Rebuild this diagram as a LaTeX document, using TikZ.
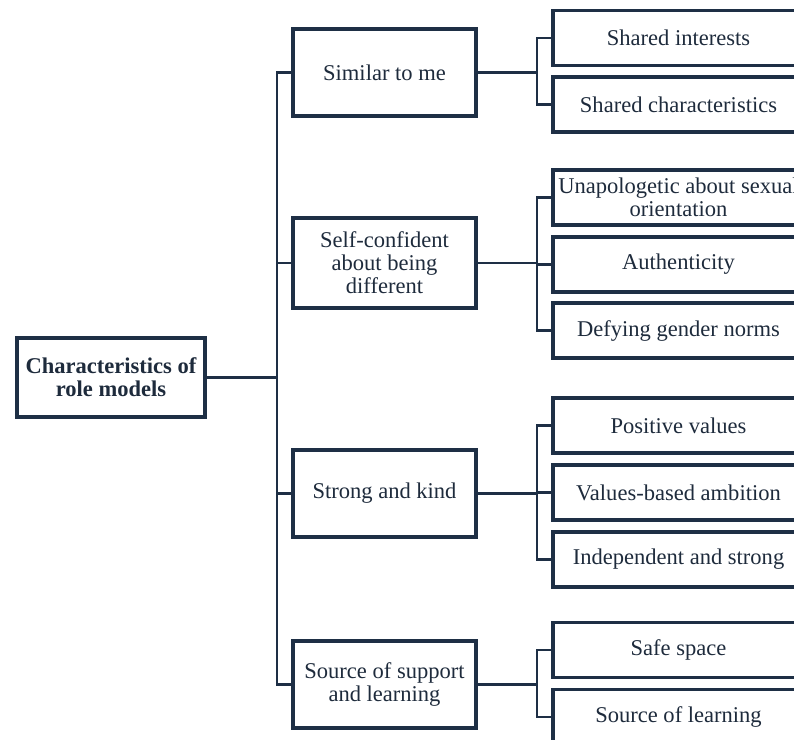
\documentclass[tikz,border=0pt]{standalone}
\usepackage{fontspec}
\setmainfont{Liberation Serif}
\definecolor{navy}{HTML}{1E2F45}
\definecolor{ink}{HTML}{1E2B3C}
\begin{document}
\begin{tikzpicture}[x=0.75pt,y=-0.75pt,
  box/.style={draw=navy,line width=2.3pt,fill=white,text=ink,align=center,inner sep=0pt,
    font=\fontsize{16.9}{17.3}\selectfont},
  rootbox/.style={box,minimum width=141pt,minimum height=59.25pt,font=\fontsize{16.9}{17.3}\selectfont\bfseries},
  midbox/.style={box,minimum width=137.25pt},
  leafbox/.style={box,minimum width=188.25pt,minimum height=41.25pt},
  conn/.style={draw=navy,line width=1.6pt}]
\useasboundingbox (0,0) rectangle (794,740);
\clip (0,0) rectangle (794,740);
\fill[white] (0,0) rectangle (794,740);
% root
\node[rootbox] (root) at (111,377.5) {Characteristics of\\role models};
% level 2
\node[midbox,minimum height=65.25pt] (a) at (384.5,72.5) {Similar to me};
\node[midbox,minimum height=67.5pt] (b) at (384.5,263) {Self-confident\\about being\\different};
\node[midbox,minimum height=65.25pt] (c) at (384.5,493.5) {Strong and kind};
\node[midbox,minimum height=65.25pt] (d) at (384.5,684.5) {Source of support\\and learning};
% level 3
\node[leafbox] (a1) at (678.5,38) {Shared interests};
\node[leafbox] (a2) at (678.5,104.5) {Shared characteristics};
\node[leafbox] (b1) at (678.5,197.5) {Unapologetic about sexual\\orientation};
\node[leafbox] (b2) at (678.5,264.5) {Authenticity};
\node[leafbox] (b3) at (678.5,330.5) {Defying gender norms};
\node[leafbox] (c1) at (678.5,425.5) {Positive values};
\node[leafbox] (c2) at (678.5,492.5) {Values-based ambition};
\node[leafbox] (c3) at (678.5,559.5) {Independent and strong};
\node[leafbox] (d1) at (678.5,650) {Safe space};
\node[leafbox] (d2) at (678.5,717) {Source of learning};
% connectors root
\coordinate (j) at (277,377.5);
\draw[conn] (root.east) -- (j);
\draw[conn] (a.west) -| (j) |- (d.west);
\draw[conn] (b.west) -- (b.west -| j);
\draw[conn] (c.west) -- (c.west -| j);
% level 2 -> 3
\coordinate (ja) at (537,72.5);
\coordinate (jb) at (537,263);
\coordinate (jc) at (537,493.5);
\coordinate (jd) at (537,684.5);
\draw[conn] (a.east) -- (ja);
\draw[conn] (a1.west) -| (ja) |- (a2.west);
\draw[conn] (b.east) -- (jb);
\draw[conn] (b1.west) -| (jb) |- (b3.west);
\draw[conn] (b2.west) -- (b2.west -| jb);
\draw[conn] (c.east) -- (jc);
\draw[conn] (c1.west) -| (jc) |- (c3.west);
\draw[conn] (c2.west) -- (c2.west -| jc);
\draw[conn] (d.east) -- (jd);
\draw[conn] (d1.west) -| (jd) |- (d2.west);
\end{tikzpicture}
\end{document}
